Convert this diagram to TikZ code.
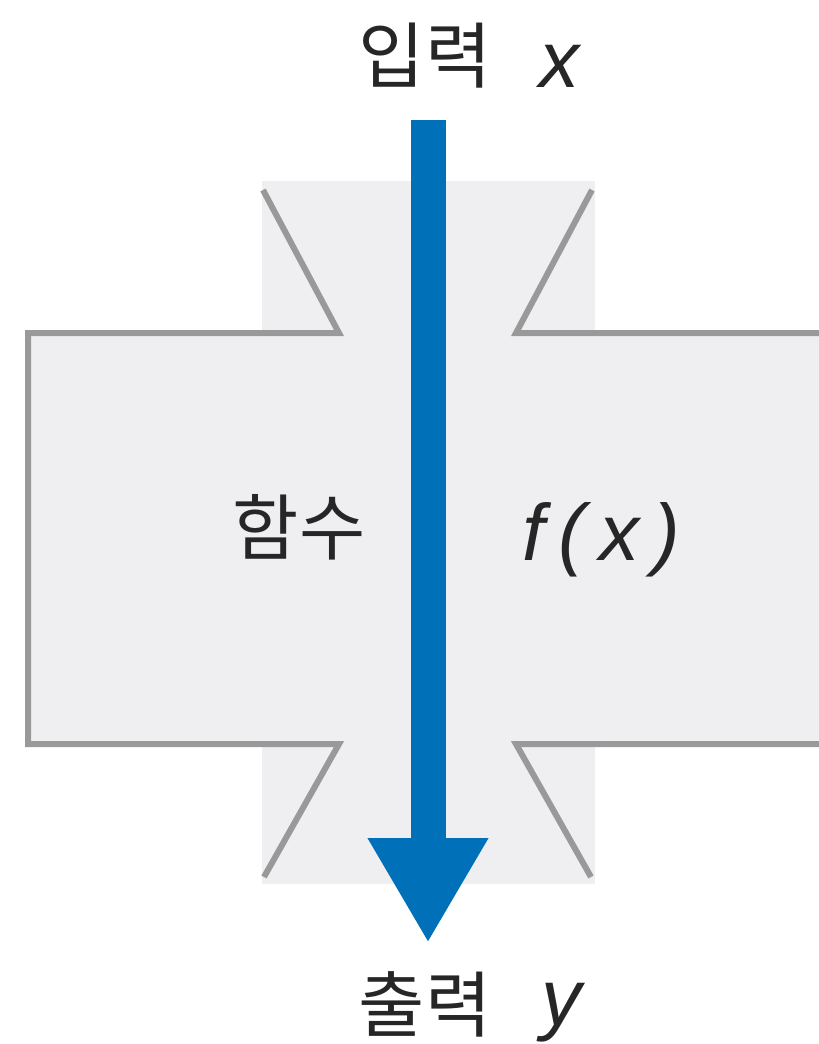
\documentclass[tikz,border=0pt]{standalone}
\usepackage{fontspec}
\setmainfont{Liberation Sans}
\newfontfamily\krfont{Noto Sans CJK KR}
\newfontfamily\varfont{Liberation Sans}
\usetikzlibrary{arrows.meta}
\definecolor{fillg}{HTML}{EFEEF1}
\definecolor{lineg}{HTML}{999999}
\definecolor{blu}{HTML}{0071B9}
\tikzset{
  outline/.style={draw=lineg, line width=6pt, line join=miter},
  kr/.style={font=\krfont\fontsize{72}{80}\selectfont, inner sep=0pt, text=black!85},
  var/.style={font=\varfont\itshape\fontsize{80}{90}\selectfont, inner sep=0pt, text=black!85, anchor=base},
  flow/.style={blu, line width=35pt, -{Triangle[width=113pt,length=105pt]}}
}
\begin{document}
\begin{tikzpicture}[x=1pt,y=-1pt]
\useasboundingbox (0,0) rectangle (819,1044);
% fills
\fill[fillg] (262,181) rectangle (595,335);
\fill[fillg] (26,333) rectangle (819,745);
\fill[fillg] (262,743) rectangle (595,884);
% outlines
\draw[outline] (263,190) -- (339,333) -- (28,333) -- (28,744) -- (339,744) -- (264,877);
\draw[outline] (592,190) -- (516,333) -- (819,333);
\draw[outline] (591,877) -- (516,744) -- (819,744);
% texts
\node[kr] (in) at (425,56) {입력};
\node[var] (inx) at (559,87) {x};
\node[kr] (fn) at (299,527) {함수};
\node[var] (fx) at (601,560) {f\hspace{14pt}(\hspace{14pt}x\hspace{14pt})};
\node[kr] (out) at (425,1004) {출력};
\node[var] (outy) at (561,1025) {y};
% arrow
\coordinate (a0) at (428,120);
\coordinate (a1) at (428,943);
\draw[flow] (a0) -- (a1);
\end{tikzpicture}
\end{document}
